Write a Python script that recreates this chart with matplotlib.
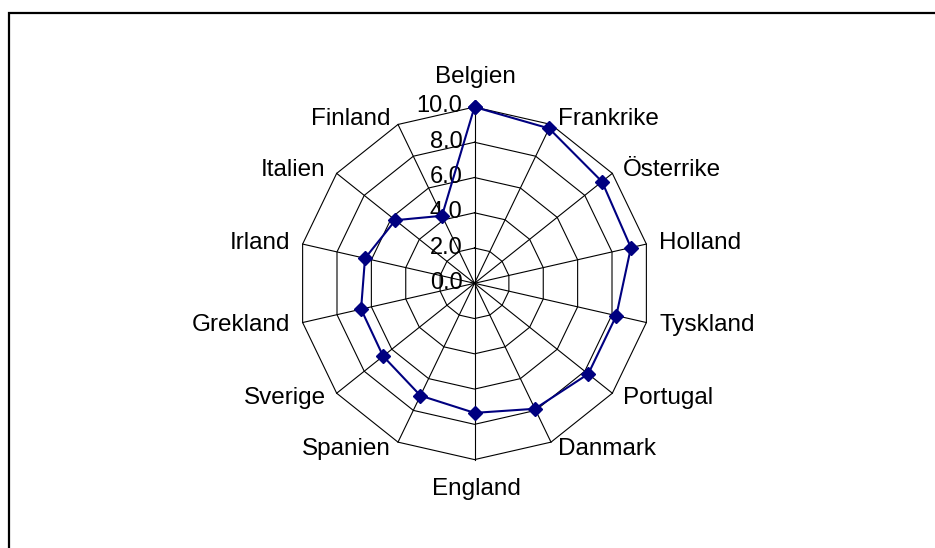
import numpy as np
import matplotlib
matplotlib.use("Agg")
from matplotlib import pyplot as plt
from matplotlib.patches import Rectangle

plt.rcParams['font.family'] = ['Liberation Sans', 'DejaVu Sans']

countries = ['Belgien', 'Frankrike', 'Österrike', 'Holland', 'Tyskland', 'Portugal', 'Danmark',
             'England', 'Spanien', 'Sverige', 'Grekland', 'Irland', 'Italien', 'Finland']
values = [10.0, 9.75, 9.25, 9.1, 8.25, 8.25, 7.9, 7.35, 7.07, 6.63, 6.6, 6.37, 5.74, 4.25]
rings = [2, 4, 6, 8, 10]
tick_labels = ['0.0', '2.0', '4.0', '6.0', '8.0', '10.0']

W, H = 935, 548
fig = plt.figure(figsize=(W / 100, H / 100), dpi=100)

# outer frame (partly cut off at right and bottom)
fig.patches.append(Rectangle((8.5 / W, -0.05), 1.2, (H - 12.5) / H + 0.05,
                             transform=fig.transFigure, fill=False,
                             edgecolor='black', linewidth=1.6))

cx, cy, R = 474.5, H - 283.3, 176.3
ax = fig.add_axes([(cx - R) / W, (cy - R) / H, 2 * R / W, 2 * R / H], projection='polar')
ax.set_theta_zero_location('N')
ax.set_theta_direction(-1)
ax.set_ylim(0, 10)
ax.set_xticks([])
ax.set_yticks([])
ax.grid(False)
ax.spines['polar'].set_visible(False)
ax.patch.set_alpha(0)

n = len(countries)
angles = np.arange(n) * 2 * np.pi / n
closed = np.append(angles, angles[0])

for r in rings:
    ax.plot(closed, [r] * (n + 1), color='black', lw=0.8, clip_on=False, zorder=1)
for a in angles:
    ax.plot([a, a], [0, 10], color='black', lw=0.8, clip_on=False, zorder=1)

ax.plot(closed, values + [values[0]], color='#000080', lw=1.5, marker='D',
        markersize=7, markerfacecolor='#000080', markeredgecolor='#000080',
        clip_on=False, zorder=3)

for i, lab in enumerate(tick_labels):
    ax.annotate(lab, xy=(0, i * 2), xytext=(-12, -5.5), textcoords='offset pixels',
                ha='right', va='baseline', fontsize=17, zorder=2)

# category labels placed next to the outer vertex
for a, name in zip(angles, countries):
    deg = np.degrees(a)
    s, c = np.sin(a), np.cos(a)
    if abs(deg) < 1:
        off, ha = (1, 24), 'center'
    elif abs(deg - 180) < 1:
        off, ha = (2, -35.5), 'center'
    else:
        dx = 3 + 10 * abs(s)
        dy = -2 - 7 * c          # cap centre below vertex (pixels, downward)
        off = (dx if s > 0 else -dx, -(dy + 8.5))
        ha = 'left' if s > 0 else 'right'
    ax.annotate(name, xy=(a, 10), xytext=off, textcoords='offset pixels',
                ha=ha, va='baseline', fontsize=17.5, annotation_clip=False)

fig.savefig('out.png', dpi=100)
